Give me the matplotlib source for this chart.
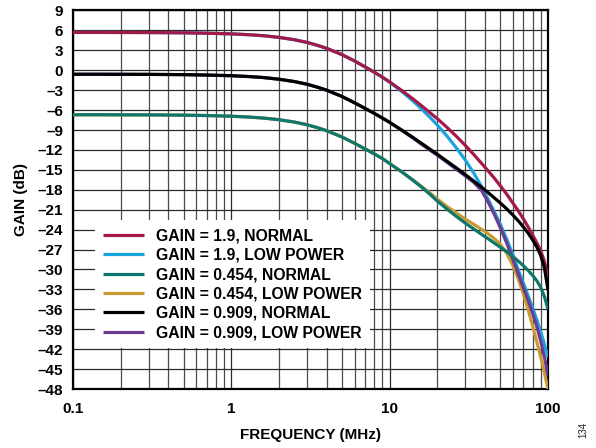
import matplotlib
matplotlib.use("Agg")
import matplotlib.pyplot as plt
from matplotlib.ticker import NullFormatter, LogLocator

plt.rcParams['font.family'] = ['Liberation Sans', 'DejaVu Sans']

freq = [0.1, 0.15, 0.2, 0.3, 0.5, 0.7, 1, 1.3, 1.6, 2, 2.5, 3, 3.5, 4, 5, 6, 7, 8, 9, 10,
        12, 14, 16, 18, 20, 23, 26, 30, 34, 38, 42, 46, 50, 55, 60, 65, 70, 75, 80, 85,
        90, 95, 100]

gain_19_normal = [5.7, 5.7, 5.69, 5.68, 5.64, 5.58, 5.48, 5.35, 5.2, 4.95, 4.6, 4.2, 3.75,
                  3.3, 2.35, 1.4, 0.5, -0.3, -1.05, -1.75, -3.1, -4.3, -5.4, -6.4, -7.3,
                  -8.6, -9.8, -11.3, -12.7, -14.0, -15.2, -16.3, -17.4, -18.7, -20.0, -21.2,
                  -22.4, -23.6, -24.8, -26.0, -27.2, -28.8, -31.3]
gain_19_low = [5.7, 5.7, 5.69, 5.68, 5.64, 5.58, 5.48, 5.35, 5.2, 4.95, 4.6, 4.2, 3.75,
               3.3, 2.35, 1.4, 0.5, -0.3, -1.05, -1.8, -3.25, -4.6, -5.9, -7.1, -8.25,
               -9.9, -11.5, -13.5, -15.5, -17.5, -19.5, -21.4, -23.2, -25.5, -27.8, -30.1,
               -32.1, -34.0, -35.8, -37.6, -39.4, -41.3, -43.2]
gain_0454_normal = [-6.7, -6.7, -6.71, -6.72, -6.76, -6.82, -6.92, -7.05, -7.2, -7.45,
                    -7.8, -8.2, -8.65, -9.1, -10.05, -11.0, -11.85, -12.6, -13.3, -14.05,
                    -15.35, -16.55, -17.65, -18.7, -19.7, -20.9, -21.9, -23.0, -23.9, -24.7,
                    -25.4, -26.05, -26.65, -27.35, -28.05, -28.75, -29.45, -30.15, -30.9,
                    -31.7, -32.7, -34.1, -36.0]
gain_0454_low = [-6.7, -6.7, -6.71, -6.72, -6.76, -6.82, -6.92, -7.05, -7.2, -7.45,
                 -7.8, -8.2, -8.65, -9.1, -10.05, -11.0, -11.85, -12.6, -13.3, -14.05,
                 -15.35, -16.5, -17.55, -18.5, -19.4, -20.5, -21.4, -22.4, -23.2, -23.95,
                 -24.65, -25.4, -26.2, -27.6, -29.4, -31.5, -33.7, -36.1, -38.5, -40.9,
                 -43.2, -45.6, -48.0]
gain_0909_normal = [-0.6, -0.6, -0.61, -0.62, -0.66, -0.72, -0.82, -0.95, -1.1, -1.35,
                    -1.7, -2.1, -2.55, -3.0, -3.95, -4.9, -5.75, -6.5, -7.2, -7.85, -9.05,
                    -10.1, -11.05, -11.9, -12.65, -13.7, -14.6, -15.7, -16.7, -17.6, -18.45,
                    -19.25, -20.0, -20.9, -21.8, -22.7, -23.6, -24.55, -25.55, -26.6, -27.9,
                    -29.8, -33.1]
gain_0909_low = [-0.6, -0.6, -0.61, -0.62, -0.66, -0.72, -0.82, -0.95, -1.1, -1.35,
                 -1.7, -2.1, -2.55, -3.0, -3.95, -4.9, -5.75, -6.5, -7.2, -7.85, -9.1,
                 -10.2, -11.2, -12.05, -12.8, -13.85, -14.8, -15.9, -16.9, -18.1, -19.9,
                 -21.8, -23.7, -26.1, -28.5, -30.7, -32.8, -34.7, -36.6, -38.6, -40.8,
                 -43.2, -46.0]

labels = ["GAIN = 1.9, NORMAL", "GAIN = 1.9, LOW POWER", "GAIN = 0.454, NORMAL",
          "GAIN = 0.454, LOW POWER", "GAIN = 0.909, NORMAL", "GAIN = 0.909, LOW POWER"]
colors = ['#A3194A', '#19A3DC', '#0E776D', '#C99A31', '#000000', '#6C3B8F']
series = [gain_19_normal, gain_19_low, gain_0454_normal, gain_0454_low,
          gain_0909_normal, gain_0909_low]
zorders = [8, 4, 7, 5, 9, 6]

yticks = list(range(-48, 10, 3))
ytick_labels = [str(v).replace('-', '\u2013') for v in yticks]
xticks = [0.1, 1, 10, 100]
xtick_labels = ["0.1", "1", "10", "100"]

fig = plt.figure(figsize=(5.96, 4.48), dpi=100)
ax = fig.add_axes([73 / 596, 1 - 389 / 448, 475 / 596, 378.5 / 448])

handles = []
for vals, lab, c, z in zip(series, labels, colors, zorders):
    h, = ax.plot(freq, vals, color=c, lw=2.3, label=lab, zorder=z,
                 solid_capstyle='butt', solid_joinstyle='round')
    handles.append(h)

ax.set_xscale('log')
ax.set_xlim(0.1, 100)
ax.set_ylim(-48, 9)
ax.set_yticks(yticks)
ax.set_yticklabels(ytick_labels)
ax.set_xticks(xticks)
ax.set_xticklabels(xtick_labels)
ax.xaxis.set_minor_locator(LogLocator(base=10, subs=range(2, 10)))
ax.xaxis.set_minor_formatter(NullFormatter())

ax.set_axisbelow(True)
ax.grid(which='major', color='#2a2a2a', lw=0.9)
ax.grid(which='minor', axis='x', color='#4a4a4a', lw=0.9)

for s in ax.spines.values():
    s.set_linewidth(1.6)
    s.set_color('black')

ax.tick_params(which='both', length=0)
ax.tick_params(axis='y', pad=7)
ax.tick_params(axis='x', pad=9.5)
for t in ax.get_xticklabels() + ax.get_yticklabels():
    t.set_fontweight('bold')
    t.set_fontsize(11)

ax.set_xlabel("FREQUENCY (MHz)", fontsize=11, fontweight='bold', labelpad=8.5)
ax.set_ylabel("GAIN (dB)", fontsize=11, fontweight='bold', labelpad=7)

leg = ax.legend(handles=handles, loc='upper left', bbox_to_anchor=(0.046, 0.446),
                frameon=True, fancybox=False, framealpha=1, facecolor='white',
                edgecolor='none', borderaxespad=0, borderpad=0.52,
                handlelength=2.6, handletextpad=0.78, labelspacing=0.28,
                prop={'weight': 'bold', 'size': 11.3})
leg.set_zorder(20)

fig.text(583 / 596, 1 - 430 / 448, "134", rotation=90, fontsize=7,
         ha='center', va='center', color='#222')

fig.savefig("out.png", dpi=100)
